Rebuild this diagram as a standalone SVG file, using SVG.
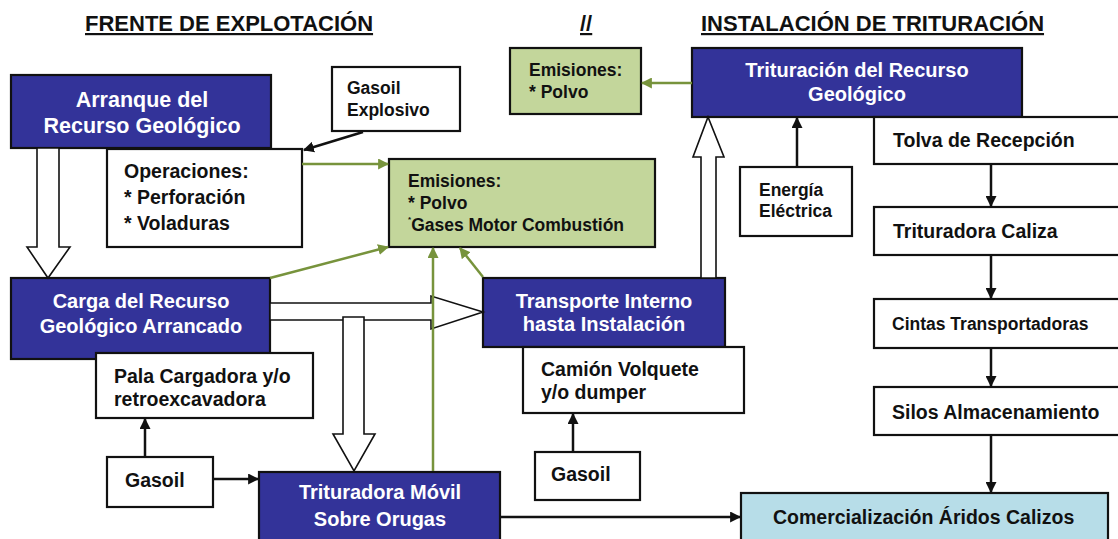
<svg xmlns="http://www.w3.org/2000/svg" width="1118" height="539" viewBox="0 0 1118 539">
<defs>
<style>
text{font-family:"Liberation Sans",Arial,Helvetica,sans-serif;font-weight:bold;}
.title{font-size:22px;fill:#111;text-decoration:underline;}
.blue{fill:#333399;stroke:#111;stroke-width:2.2;}
.white{fill:#fff;stroke:#111;stroke-width:2.2;}
.green{fill:#c3d69b;stroke:#111;stroke-width:2.2;}
.lblue{fill:#b7dde8;stroke:#111;stroke-width:2.2;}
.wt{fill:#fff;font-size:20px;text-anchor:middle;}
.bt{fill:#111;font-size:19.5px;}
.st{fill:#111;font-size:17.5px;}
.blk{stroke:#111;stroke-width:2.5;fill:none;marker-end:url(#ab);}
.grn{stroke:#77933c;stroke-width:2.5;fill:none;marker-end:url(#ag);}
.hollow{fill:#fff;stroke:#111;stroke-width:1.6;stroke-linejoin:miter;}
</style>
<marker id="ab" viewBox="0 0 10 10" refX="9" refY="5" markerWidth="11" markerHeight="11" markerUnits="userSpaceOnUse" orient="auto"><path d="M0,0 L10,5 L0,10 z" fill="#111"/></marker>
<marker id="ag" viewBox="0 0 10 10" refX="9" refY="5" markerWidth="11" markerHeight="11" markerUnits="userSpaceOnUse" orient="auto"><path d="M0,0 L10,5 L0,10 z" fill="#77933c"/></marker>
</defs>
<rect width="1118" height="539" fill="#fff"/>

<g id="titles">
<text class="title" x="85" y="31">FRENTE DE EXPLOTACIÓN</text>
<text class="title" x="580" y="31">//</text>
<text class="title" x="701" y="31">INSTALACIÓN DE TRITURACIÓN</text>
</g>

<g id="arranque">
<rect class="blue" x="11" y="75" width="260" height="73"/>
<text class="wt" x="142" y="107" style="font-size:21.5px">Arranque del</text>
<text class="wt" x="142" y="133" style="font-size:21.5px">Recurso Geológico</text>
</g>
<g id="gasoil-explosivo">
<rect class="white" x="332" y="67" width="128" height="64"/>
<text class="st" x="347" y="94">Gasoil</text>
<text class="st" x="347" y="116">Explosivo</text>
</g>
<g id="operaciones">
<rect class="white" x="107" y="149" width="195" height="98"/>
<text class="bt" x="124" y="178">Operaciones:</text>
<text class="bt" x="124" y="204">* Perforación</text>
<text class="bt" x="124" y="230">* Voladuras</text>
</g>
<g id="emisiones-frente">
<rect class="green" x="389" y="159" width="266" height="88"/>
<text class="st" x="408" y="187">Emisiones:</text>
<text class="st" x="408" y="209">* Polvo</text>
<text class="st" x="408" y="231"><tspan style="font-size:8px" dy="-9">*</tspan><tspan dy="9">Gases Motor Combustión</tspan></text>
</g>
<g id="emisiones-instalacion">
<rect class="green" x="510" y="48" width="131" height="66"/>
<text class="st" x="529" y="76">Emisiones:</text>
<text class="st" x="529" y="98">* Polvo</text>
</g>
<g id="trituracion">
<rect class="blue" x="692" y="48" width="330" height="69"/>
<text class="wt" x="857" y="77">Trituración del Recurso</text>
<text class="wt" x="857" y="101">Geológico</text>
</g>
<g id="energia">
<rect class="white" x="740" y="167" width="112" height="69"/>
<text class="st" x="759" y="196">Energía</text>
<text class="st" x="759" y="217">Eléctrica</text>
</g>
<g id="tolva">
<rect class="white" x="874" y="117" width="260" height="47"/>
<text class="bt" x="893" y="147">Tolva de Recepción</text>
</g>
<g id="trituradora-caliza">
<rect class="white" x="874" y="207" width="260" height="48"/>
<text class="bt" x="893" y="238">Trituradora Caliza</text>
</g>
<g id="cintas">
<rect class="white" x="874" y="299" width="260" height="49"/>
<text class="st" x="892" y="330">Cintas Transportadoras</text>
</g>
<g id="silos">
<rect class="white" x="874" y="387" width="260" height="48"/>
<text class="bt" x="892" y="419">Silos Almacenamiento</text>
</g>
<g id="comercializacion">
<rect class="lblue" x="741" y="493" width="367" height="60"/>
<text class="bt" x="773" y="524">Comercialización Áridos Calizos</text>
</g>
<g id="carga">
<rect class="blue" x="11" y="278" width="259" height="81"/>
<text class="wt" x="141" y="308">Carga del Recurso</text>
<text class="wt" x="141" y="333">Geológico Arrancado</text>
</g>
<g id="pala">
<rect class="white" x="96" y="353" width="217" height="65"/>
<text class="bt" x="114" y="383">Pala Cargadora y/o</text>
<text class="bt" x="114" y="406">retroexcavadora</text>
</g>
<g id="gasoil-pala">
<rect class="white" x="107" y="457" width="106" height="50"/>
<text class="bt" x="125" y="487">Gasoil</text>
</g>
<g id="trituradora-movil">
<rect class="blue" x="259" y="472" width="241" height="80"/>
<text class="wt" x="380" y="499">Trituradora Móvil</text>
<text class="wt" x="380" y="526">Sobre Orugas</text>
</g>
<g id="transporte">
<rect class="blue" x="483" y="278" width="242" height="69"/>
<text class="wt" x="604" y="308">Transporte Interno</text>
<text class="wt" x="604" y="331">hasta Instalación</text>
</g>
<g id="camion">
<rect class="white" x="523" y="347" width="221" height="66"/>
<text class="bt" x="541" y="376">Camión Volquete</text>
<text class="bt" x="541" y="399">y/o dumper</text>
</g>
<g id="gasoil-camion">
<rect class="white" x="535" y="452" width="105" height="48"/>
<text class="bt" x="551" y="481">Gasoil</text>
</g>

<g id="connectors">
<polygon class="hollow" points="37,148 59,148 59,247 70,247 48,278 27,247 37,247"/>
<polygon class="hollow" points="270,303 431,303 431,296 483,312 431,329 431,320 270,320"/>
<polygon class="hollow" points="343,317 364,317 364,434 375,434 354,471 333,434 343,434"/>
<polygon class="hollow" points="701,278 701,157 693,157 708,117 724,157 716,157 716,278"/>
<line class="blk" x1="363" y1="132" x2="304" y2="150"/>
<line class="blk" x1="145" y1="457" x2="145" y2="419"/>
<line class="blk" x1="213" y1="479" x2="258" y2="479"/>
<line class="blk" x1="573" y1="452" x2="573" y2="414"/>
<line class="blk" x1="797" y1="167" x2="797" y2="118"/>
<line class="blk" x1="991" y1="164" x2="991" y2="206"/>
<line class="blk" x1="991" y1="255" x2="991" y2="298"/>
<line class="blk" x1="991" y1="348" x2="991" y2="386"/>
<line class="blk" x1="991" y1="435" x2="991" y2="492"/>
<line class="blk" x1="500" y1="517" x2="740" y2="517"/>
<line class="grn" x1="302" y1="164" x2="388" y2="164"/>
<line class="grn" x1="270" y1="278" x2="388" y2="247"/>
<line class="grn" x1="433" y1="471" x2="433" y2="248"/>
<line class="grn" x1="483" y1="277" x2="460" y2="248"/>
<line class="grn" x1="692" y1="83" x2="642" y2="83"/>
</g>
</svg>
